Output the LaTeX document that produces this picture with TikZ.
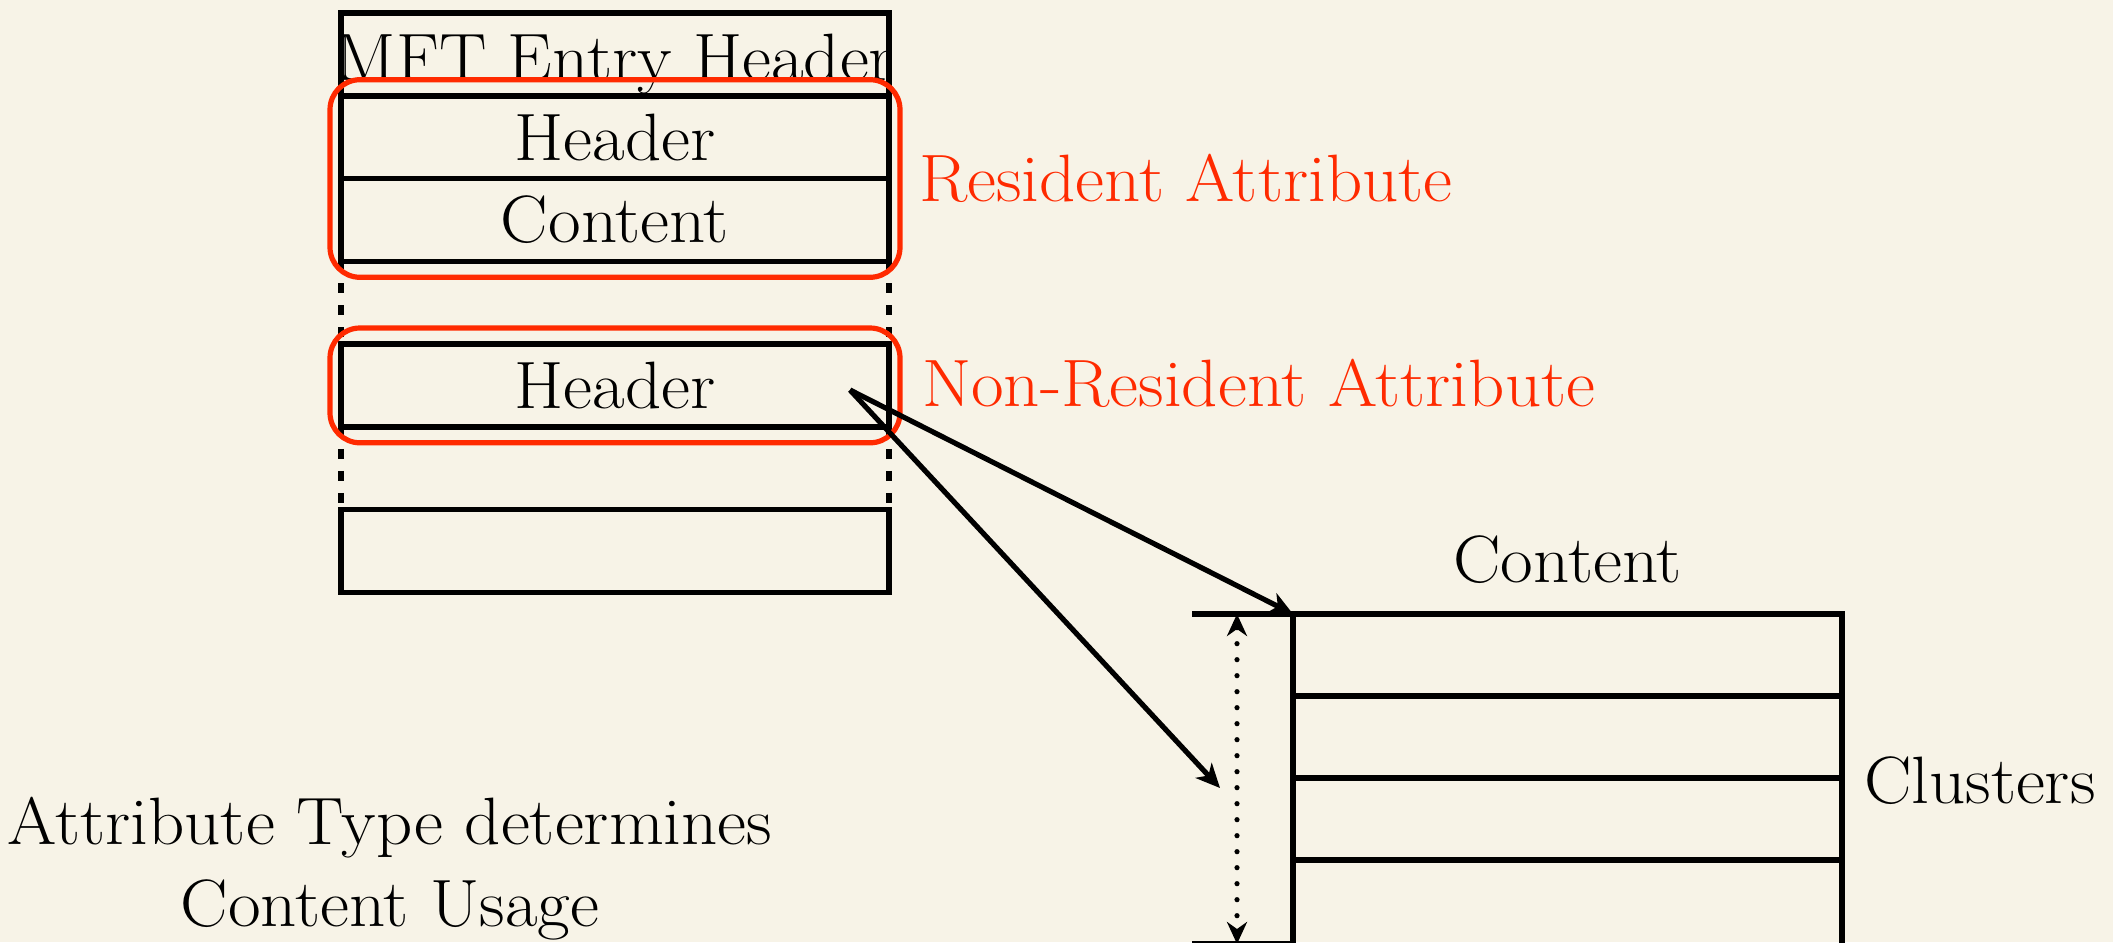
\documentclass[tikz,border=0pt]{standalone}
\usepackage{fontspec}
\setmainfont{Latin Modern Roman}[FakeStretch=1.06]
\usetikzlibrary{arrows.meta,fit}
\definecolor{paper}{HTML}{F7F3E7}
\definecolor{attrred}{HTML}{FF2A00}

\begin{document}
\begin{tikzpicture}[x=0.5pt,y=-0.5pt,
  every node/.style={font=\fontsize{33.5}{41}\selectfont, inner sep=0pt, outer sep=0pt},
  rowbox/.style={draw, line width=2.8pt, minimum width=274pt, minimum height=41.4pt,
                 text height=22.9pt, text depth=0pt},
  clusterbox/.style={draw, line width=2.8pt, minimum width=274.5pt, minimum height=41pt},
  gapline/.style={line width=2.8pt, dash pattern=on 5pt off 6pt},
  attrbox/.style={draw=attrred, line width=2.6pt, rounded corners=15pt,
                  inner xsep=5.5pt, inner ysep=8pt},
  redlabel/.style={text=attrred},
  tick/.style={line width=2.8pt},
  pointer/.style={line width=2.6pt, -{Stealth[length=12pt,width=11pt,inset=3.5pt]}},
  extent/.style={line width=2.6pt, dash pattern=on 0pt off 8pt, line cap=round,
                 {Stealth[length=11pt,width=10pt,inset=3.5pt]}-{Stealth[length=11pt,width=10pt,inset=3.5pt]}}
]
\useasboundingbox (0,0) rectangle (2113,942);
\clip (0,0) rectangle (2113,942);
\fill[paper] (0,0) rectangle (2113,942);

% MFT record with its attributes
\node[rowbox] (mft)  at (615,54.4)  {};
\node[rowbox] (hdr1) at (615,137.1) {Header};
\node[rowbox] (cnt1) at (615,219.9) {Content};
\node[rowbox] (hdr2) at (615,385.4) {Header};
\node[rowbox] (last) at (615,550.9) {};
\node[anchor=base] (mftlabel) at (615,80) {MFT Entry Header};

% elided attributes between the rows
\draw[gapline] (cnt1.south west) -- (hdr2.north west);
\draw[gapline] (cnt1.south east) -- (hdr2.north east);
\draw[gapline] (hdr2.south west) -- (last.north west);
\draw[gapline] (hdr2.south east) -- (last.north east);

% attribute groupings
\node[attrbox, fit=(hdr1)(cnt1)] (resident) {};
\node[attrbox, fit=(hdr2)] (nonresident) {};
\node[redlabel, anchor=base west] (reslabel) at (919,201) {Resident Attribute};
\node[redlabel, anchor=base west] (nonreslabel) at (922,406) {Non-Resident Attribute};

% clusters holding the non-resident content
\node[clusterbox] (c1) at (1567.5,655) {};
\node[clusterbox] (c2) at (1567.5,737) {};
\node[clusterbox] (c3) at (1567.5,819) {};
\node[clusterbox, minimum height=82pt] (c4) at (1567.5,942) {};
\node[anchor=base] (contentlabel) at (1567.5,582) {Content};
\node[anchor=base west] (clusterslabel) at (1864,803) {Clusters};

% run extent marker
\coordinate (ttop) at (1192,614);
\coordinate (tbot) at (1192,944);
\coordinate (tbotend) at (1293,944);
\coordinate (dtop) at (1237,614);
\coordinate (dbot) at (1237,944);
\draw[tick] (ttop) -- (c1.north west);
\draw[tick] (tbot) -- (tbotend);
\draw[extent] (dtop) -- (dbot);

% pointers from the non-resident header
\coordinate (ptr) at (850,390);
\coordinate (runs) at (1220,788);
\draw[pointer] (ptr) -- (c1.north west);
\draw[pointer] (ptr) -- (runs);

\node[align=center, anchor=north] (note) at (390,797) {Attribute Type determines\\Content Usage};
\end{tikzpicture}
\end{document}
